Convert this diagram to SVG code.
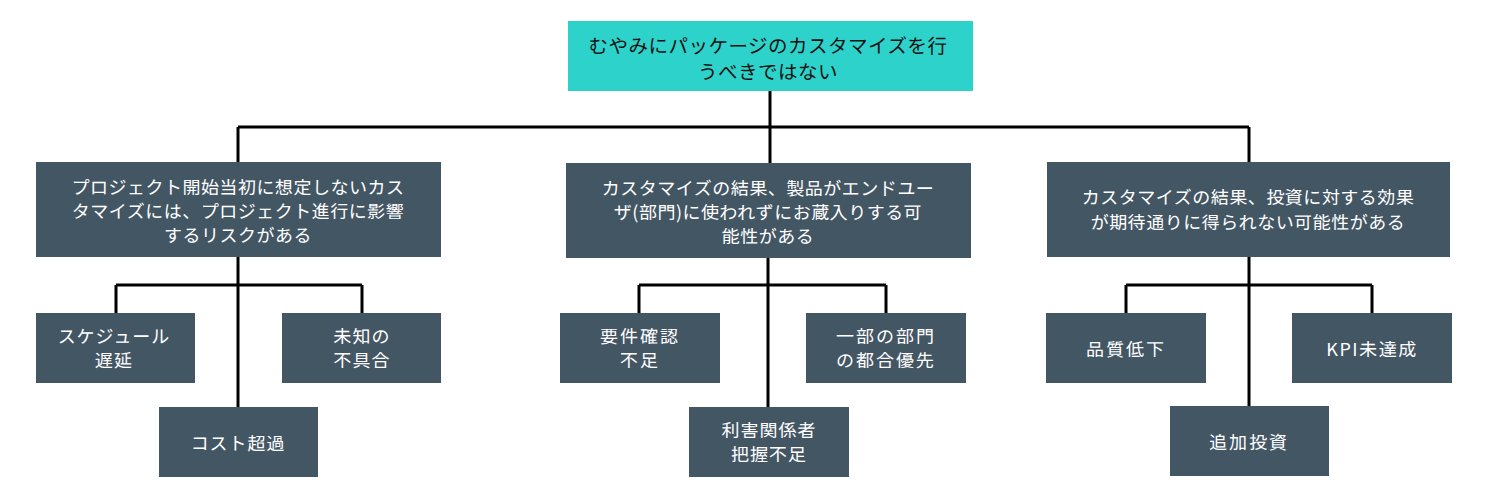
<svg xmlns="http://www.w3.org/2000/svg" width="1500" height="500" viewBox="0 0 1500 500">
<style>
.top{fill:#2DD3CA}
.box{fill:#435664}
text{font-family:"Noto Sans JP","Noto Sans CJK JP",sans-serif;text-anchor:middle;dominant-baseline:central}
.tt{fill:#111;font-size:19.5px;letter-spacing:0.5px}
.wt{fill:#fff;font-size:18px}
.ln{stroke:#000;stroke-width:3;fill:none}
</style>
<rect width="1500" height="500" fill="#fff"/>
<g id="connectors">
<path class="ln" d="M770 90V127M238 127H1249M238 127V163M770 127V163M1249 127V163"/>
<path class="ln" d="M238 257V408M116 285H362M116 285V314M362 285V314"/>
<path class="ln" d="M768 258V408M639 285H886M639 285V314M886 285V314"/>
<path class="ln" d="M1249 257V407M1126 285H1372M1126 285V314M1372 285V314"/>
</g>
<g id="root"><rect class="top" x="568" y="21" width="405" height="70"/>
<text class="tt"><tspan x="768" y="44">むやみにパッケージのカスタマイズを行</tspan><tspan x="768" y="70">うべきではない</tspan></text></g>
<g id="n1"><rect class="box" x="36" y="162" width="405" height="95"/>
<text class="wt" letter-spacing="0.5"><tspan x="238" y="186">プロジェクト開始当初に想定しないカス</tspan><tspan x="238" y="210">タマイズには、プロジェクト進行に影響</tspan><tspan x="238" y="234">するリスクがある</tspan></text></g>
<g id="n2"><rect class="box" x="566" y="163" width="405" height="95"/>
<text class="wt" letter-spacing="0.5"><tspan x="768" y="187">カスタマイズの結果、製品がエンドユー</tspan><tspan x="768" y="211">ザ(部門)に使われずにお蔵入りする可</tspan><tspan x="768" y="235">能性がある</tspan></text></g>
<g id="n3"><rect class="box" x="1047" y="162" width="403" height="95"/>
<text class="wt" letter-spacing="0.5"><tspan x="1248" y="196">カスタマイズの結果、投資に対する効果</tspan><tspan x="1248" y="221">が期待通りに得られない可能性がある</tspan></text></g>
<g id="n11"><rect class="box" x="36" y="313" width="159" height="70"/>
<text class="wt" letter-spacing="1"><tspan x="114" y="335">スケジュール</tspan><tspan x="114" y="359">遅延</tspan></text></g>
<g id="n12"><rect class="box" x="282" y="313" width="159" height="70"/>
<text class="wt" letter-spacing="1"><tspan x="362" y="335">未知の</tspan><tspan x="362" y="359">不具合</tspan></text></g>
<g id="n13"><rect class="box" x="159" y="407" width="159" height="70"/>
<text class="wt" x="238" y="442" letter-spacing="1">コスト超過</text></g>
<g id="n21"><rect class="box" x="560" y="313" width="160" height="70"/>
<text class="wt" letter-spacing="2"><tspan x="640" y="335">要件確認</tspan><tspan x="640" y="359">不足</tspan></text></g>
<g id="n22"><rect class="box" x="806" y="313" width="160" height="70"/>
<text class="wt" letter-spacing="2"><tspan x="886" y="335">一部の部門</tspan><tspan x="886" y="359">の都合優先</tspan></text></g>
<g id="n23"><rect class="box" x="689" y="407" width="160" height="70"/>
<text class="wt" letter-spacing="1"><tspan x="769" y="429">利害関係者</tspan><tspan x="769" y="453">把握不足</tspan></text></g>
<g id="n31"><rect class="box" x="1046" y="313" width="160" height="70"/>
<text class="wt" x="1126" y="348" letter-spacing="2">品質低下</text></g>
<g id="n32"><rect class="box" x="1292" y="313" width="160" height="70"/>
<text class="wt" x="1372" y="348" letter-spacing="1.5" font-size="19">KPI未達成</text></g>
<g id="n33"><rect class="box" x="1170" y="406" width="159" height="70"/>
<text class="wt" x="1249" y="441" letter-spacing="2">追加投資</text></g>
</svg>
